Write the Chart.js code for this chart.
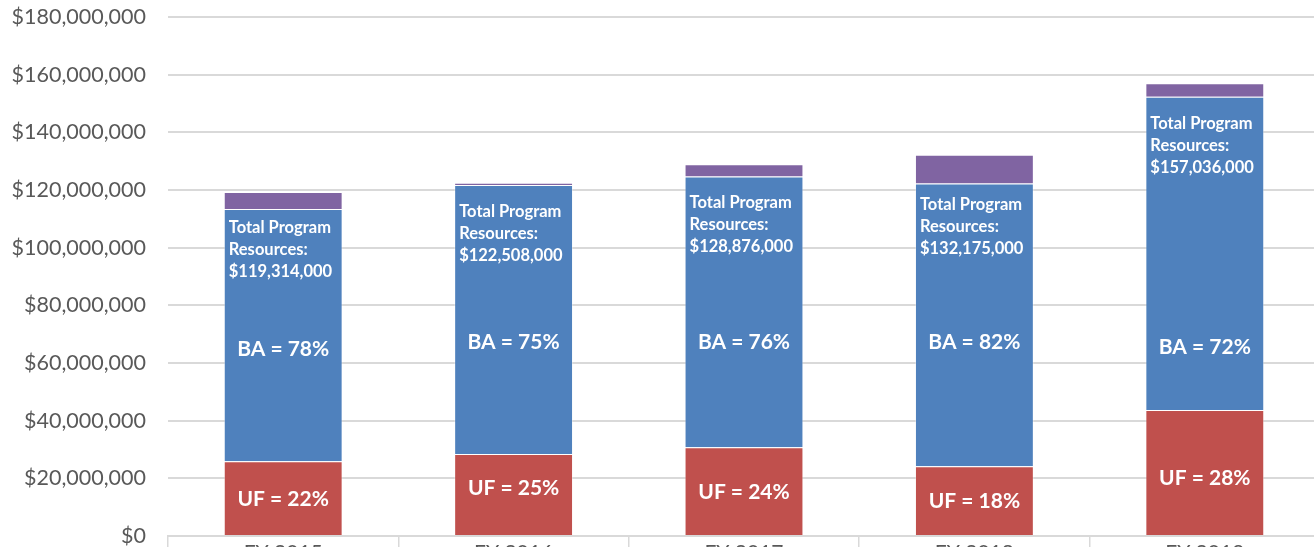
<!DOCTYPE html>
<html>
<head>
<meta charset="utf-8">
<script src="https://cdn.jsdelivr.net/npm/chart.js@4"></script>
<style>
  html, body { margin: 0; padding: 0; background: #fff; overflow: hidden; }
  #wrap { position: absolute; left: 0; top: 0; width: 1320px; height: 580px; }
</style>
</head>
<body>
<div id="wrap"><canvas id="chart"></canvas></div>
<script>
// categories and series (dollars)
const years = ['FY 2015', 'FY 2016', 'FY 2017', 'FY 2018', 'FY 2019'];
const ufValues = [25900000, 28400000, 30750000, 24200000, 43700000];
const baValues = [87500000, 93300000, 93900000, 98000000, 108600000];
const otherValues = [5914000, 808000, 4226000, 9975000, 4736000];
const totals = [119314000, 122508000, 128876000, 132175000, 157036000];
const baPct = [78, 75, 76, 82, 72];
const ufPct = [22, 25, 24, 18, 28];
// where Excel left the data labels (value space)
const totalLabelAt = [106900000, 112500000, 115600000, 114900000, 143100000];
const baLabelAt = [64800000, 67200000, 67200000, 67200000, 65500000];
const ufLabelAt = [12900000, 16700000, 15300000, 12200000, 20200000];
const yTicks = { min: 0, max: 180000000, step: 20000000 };

const FONT = 'Lato, "Open Sans", sans-serif';

function money(v) {
    return '$' + Number(v).toLocaleString('en-US');
}

const labelPlugin = {
    id: 'barLabels',
    afterDatasetsDraw(chart) {
        const ctx = chart.ctx;
        const yScale = chart.scales.y;
        const ufMeta = chart.getDatasetMeta(0);
        const baMeta = chart.getDatasetMeta(1);
        ctx.save();
        ctx.fillStyle = '#ffffff';
        years.forEach((yr, i) => {
            const ba = baMeta.data[i];
            const uf = ufMeta.data[i];
            const left = ba.x - ba.width / 2 + 5;

            // total resources label near the top of the blue segment
            ctx.font = 'bold 16.5px ' + FONT;
            ctx.textAlign = 'left';
            ctx.textBaseline = 'middle';
            const top = yScale.getPixelForValue(totalLabelAt[i]);
            const lines = ['Total Program', 'Resources:', money(totals[i])];
            lines.forEach((t, k) => {
                ctx.fillText(t, left, top + k * 22);
            });

            ctx.font = 'bold 21px ' + FONT;
            ctx.textAlign = 'center';
            ctx.fillText('BA = ' + baPct[i] + '%', ba.x, yScale.getPixelForValue(baLabelAt[i]));
            ctx.fillText('UF = ' + ufPct[i] + '%', uf.x, yScale.getPixelForValue(ufLabelAt[i]));
        });
        ctx.restore();
    }
};

const ctx = document.getElementById('chart').getContext('2d');
new Chart(ctx, {
    type: 'bar',
    data: {
        labels: years,
        datasets: [{
            label: 'UF',
            data: ufValues,
            backgroundColor: '#C0504D',
            borderColor: 'rgba(255,255,255,0.35)',
            borderWidth: 1
        }, {
            label: 'BA',
            data: baValues,
            backgroundColor: '#4F81BD',
            borderColor: 'rgba(255,255,255,0.35)',
            borderWidth: 1
        }, {
            label: 'Other',
            data: otherValues,
            backgroundColor: '#8064A2',
            borderColor: 'rgba(255,255,255,0.35)',
            borderWidth: 1
        }]
    },
    options: {
        responsive: true,
        maintainAspectRatio: false,
        animation: false,
        layout: { padding: { top: 7, right: 0, left: 0, bottom: 0 } },
        plugins: {
            legend: { display: false },
            tooltip: { enabled: false }
        },
        datasets: {
            bar: { categoryPercentage: 0.516, barPercentage: 1 }
        },
        scales: {
            x: {
                stacked: true,
                grid: {
                    offset: true,
                    drawOnChartArea: false,
                    drawTicks: true,
                    tickLength: 14,
                    color: '#D9D9D9',
                    lineWidth: 1.5
                },
                border: { color: '#D9D9D9', width: 2 },
                ticks: {
                    color: '#595959',
                    font: { family: FONT, size: 21 },
                    padding: -9
                },
                afterFit(s) { s.height = 44; }
            },
            y: {
                stacked: true,
                min: yTicks.min,
                max: yTicks.max,
                grid: {
                    color: '#D9D9D9',
                    lineWidth: 2,
                    drawTicks: true,
                    tickLength: 18,
                    tickColor: 'rgba(0,0,0,0)'
                },
                border: { display: false },
                ticks: {
                    stepSize: yTicks.step,
                    color: '#595959',
                    font: { family: FONT, size: 21.5 },
                    padding: 4,
                    callback: v => money(v)
                },
                afterFit(s) { s.width = 168; }
            }
        }
    },
    plugins: [labelPlugin]
});
</script>
</body>
</html>
